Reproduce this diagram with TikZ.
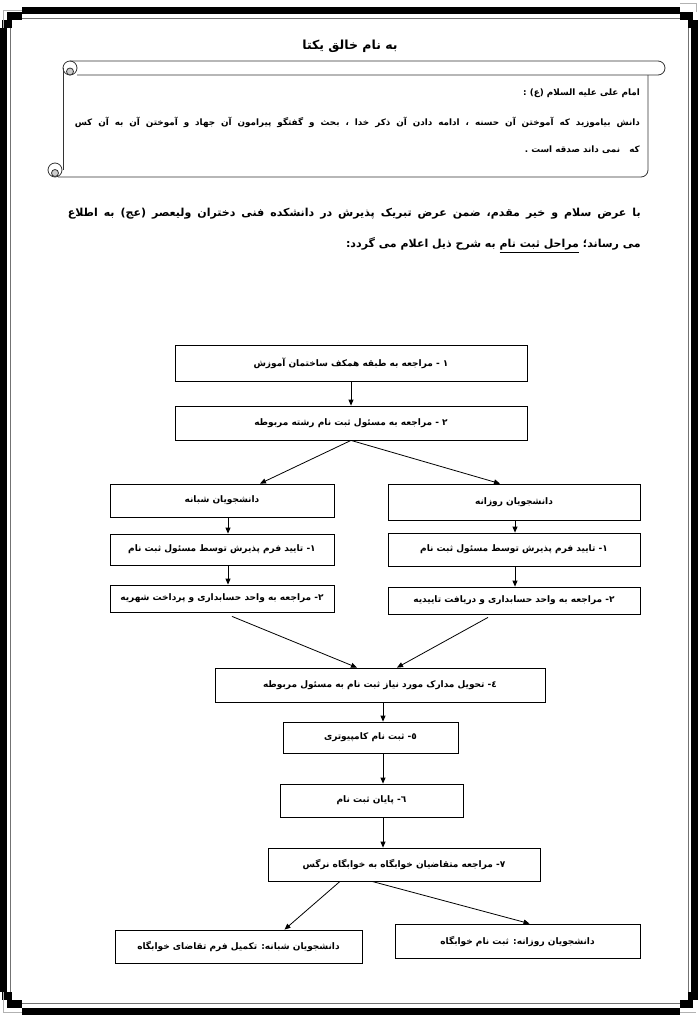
\documentclass[tikz,border=0pt]{standalone}
\usepackage{fontspec}
\usetikzlibrary{arrows.meta,shadows,calc}
\newfontfamily\fa[Script=Arabic]{DejaVu Sans}
\TeXXeTstate=1
\newcommand{\fatxt}[1]{\beginR #1\endR}
\tikzset{
  box/.style={draw, line width=0.8pt, fill=white, inner sep=0pt,
    drop shadow={shadow xshift=1.2pt,shadow yshift=-1.2pt,fill=black!40,opacity=1},
    font=\fa\bfseries\fontsize{9}{11}\selectfont},
  arr/.style={line width=0.8pt, -{Triangle[length=6pt,width=5pt]}},
  blk/.style={fill=black},
  gline/.style={draw=black!55, line width=1pt},
  scroll/.style={draw=black!80, line width=0.8pt},
  quote/.style={anchor=east, inner sep=0pt, font=\fa\bfseries\fontsize{8.8}{11}\selectfont},
  para/.style={anchor=east, inner sep=0pt, font=\fa\bfseries\fontsize{11}{13}\selectfont},
}
\begin{document}
\begin{tikzpicture}[x=1pt,y=-1pt]
\useasboundingbox (0,0) rectangle (700,1015);
% page border
\fill[blk] (22,7) rectangle (680,14);
\fill[blk] (22,1008) rectangle (680,1015);
\fill[blk] (0,28) rectangle (7,992);
\fill[blk] (691,28) rectangle (698,992);
\fill[blk] (7,12) rectangle (22,20);
\fill[blk] (2,20) rectangle (12,28);
\fill[blk] (680,12) rectangle (693,20);
\fill[blk] (688,20) rectangle (698,28);
\fill[blk] (7,1000) rectangle (22,1008);
\fill[blk] (2,992) rectangle (12,1000);
\fill[blk] (680,1000) rectangle (693,1008);
\fill[blk] (688,992) rectangle (698,1000);
\draw[gline] (22,18) -- (680,18);
\draw[gline] (22,1003) -- (680,1003);
\draw[gline] (10,28) -- (10,992);
\draw[gline] (688,28) -- (688,992);
\draw[black!30, line width=0.6pt] (3,28) -- (3,10) -- (22,10);
\draw[black!30, line width=0.6pt] (3,992) -- (3,1012) -- (22,1012);
\draw[black!30, line width=0.6pt] (680,3) -- (696,3) -- (696,12);
\draw[black!30, line width=0.6pt] (680,1012) -- (696,1012);
% title
\node (title) at (350,46) {\fa\bfseries\fontsize{12.5}{14}\selectfont\fatxt{به نام خالق یکتا}};
% scroll
\draw[scroll] (70,61) -- (658,61) arc[start angle=-90,end angle=90,radius=7] -- (77,75);
\draw[scroll] (70,68) circle[radius=7];
\draw[scroll, fill=black!20] (70,71.5) circle[radius=3.5];
\draw[scroll] (63,68) -- (63,170);
\draw[scroll] (648,75) -- (648,170) arc[start angle=0,end angle=90,radius=7] -- (58,177);
\draw[scroll] (55,170) circle[radius=7];
\draw[scroll, fill=black!20] (55,173) circle[radius=3.5];
\node[quote] (q1) at (640,93) {\fatxt{امام علی علیه السلام (ع) :}};
\node[quote] (q2) at (640,122) {\hbox to 565pt{\beginR دانش بیاموزید که آموختن آن حسنه ، ادامه دادن آن ذکر خدا ، بحث و گفتگو پیرامون آن جهاد و آموختن آن به آن کس\endR}};
\node[quote] (q3) at (640,150) {\fatxt{که \ \ نمی داند صدقه است .}};
% paragraph
\node[para] (p1) at (641,214) {\hbox to 573pt{\beginR با عرض سلام و خیر مقدم، ضمن عرض تبریک پذیرش در دانشکده فنی دختران ولیعصر (عج) به اطلاع\endR}};
\node[para] (p2) at (641,245) {\fatxt{می رساند؛ \underline{\beginR مراحل ثبت نام\endR} به شرح ذیل اعلام می گردد:}};
% flowchart
\node[box, minimum width=352pt, minimum height=36pt] (b1) at (351,363) {\fatxt{١ - مراجعه به طبقه همکف ساختمان آموزش}};
\node[box, minimum width=352pt, minimum height=34pt] (b2) at (351,423) {\fatxt{٢ - مراجعه به مسئول ثبت نام رشته مربوطه}};
\node[box, minimum width=224pt, minimum height=33pt] (L0) at (222,500.5) {\fatxt{دانشجویان شبانه}};
\node[box, minimum width=224pt, minimum height=31pt] (L1) at (222,549.5) {\fatxt{١- تایید فرم پذیرش توسط مسئول ثبت نام}};
\node[box, minimum width=224pt, minimum height=27pt] (L2) at (222,598.5) {\fatxt{٢- مراجعه به واحد حسابداری و پرداخت شهریه}};
\node[box, minimum width=252pt, minimum height=36pt] (R0) at (514,502) {\fatxt{دانشجویان روزانه}};
\node[box, minimum width=252pt, minimum height=33pt] (R1) at (514,549.5) {\fatxt{١- تایید فرم پذیرش توسط مسئول ثبت نام}};
\node[box, minimum width=252pt, minimum height=27pt] (R2) at (514,600.5) {\fatxt{٢- مراجعه به واحد حسابداری و دریافت تاییدیه}};
\node[box, minimum width=330pt, minimum height=34pt] (b4) at (380,685) {\fatxt{٤- تحویل مدارک مورد نیاز ثبت نام به مسئول مربوطه}};
\node[box, minimum width=175pt, minimum height=31pt] (b5) at (370.5,737.5) {\fatxt{٥- ثبت نام کامپیوتری}};
\node[box, minimum width=183pt, minimum height=33pt] (b6) at (371.5,800.5) {\fatxt{٦- پایان ثبت نام}};
\node[box, minimum width=272pt, minimum height=33pt] (b7) at (404,864.5) {\fatxt{٧- مراجعه متقاضیان خوابگاه به خوابگاه نرگس}};
\node[box, minimum width=247pt, minimum height=33pt] (BL) at (238.5,946.5) {\fatxt{دانشجویان شبانه: تکمیل فرم تقاضای خوابگاه}};
\node[box, minimum width=245pt, minimum height=34pt] (BR) at (517.5,941) {\fatxt{دانشجویان روزانه: ثبت نام خوابگاه}};
\coordinate (lx) at (228,0);
\coordinate (rx) at (515,0);
\coordinate (vx) at (383,0);
\draw[arr] (b1.south) -- (b2.north);
\draw[arr] (b2.south) -- ([xshift=38pt]L0.north);
\draw[arr] (b2.south) -- ([xshift=-14pt]R0.north);
\draw[arr] (L0.south -| lx) -- (L1.north -| lx);
\draw[arr] (L1.south -| lx) -- (L2.north -| lx);
\draw[arr] (R0.south -| rx) -- (R1.north -| rx);
\draw[arr] (R1.south -| rx) -- (R2.north -| rx);
\draw[arr] ([xshift=10pt,yshift=-4pt]L2.south) -- ([xshift=-23pt]b4.north);
\draw[arr] ([xshift=-26pt,yshift=-3pt]R2.south) -- ([xshift=17pt]b4.north);
\draw[arr] (b4.south -| vx) -- (b5.north -| vx);
\draw[arr] (b5.south -| vx) -- (b6.north -| vx);
\draw[arr] (b6.south -| vx) -- (b7.north -| vx);
\draw[arr] ([xshift=-64pt]b7.south) -- ([xshift=46pt]BL.north);
\draw[arr] ([xshift=-32pt]b7.south) -- ([xshift=12pt]BR.north);
\end{tikzpicture}
\end{document}
